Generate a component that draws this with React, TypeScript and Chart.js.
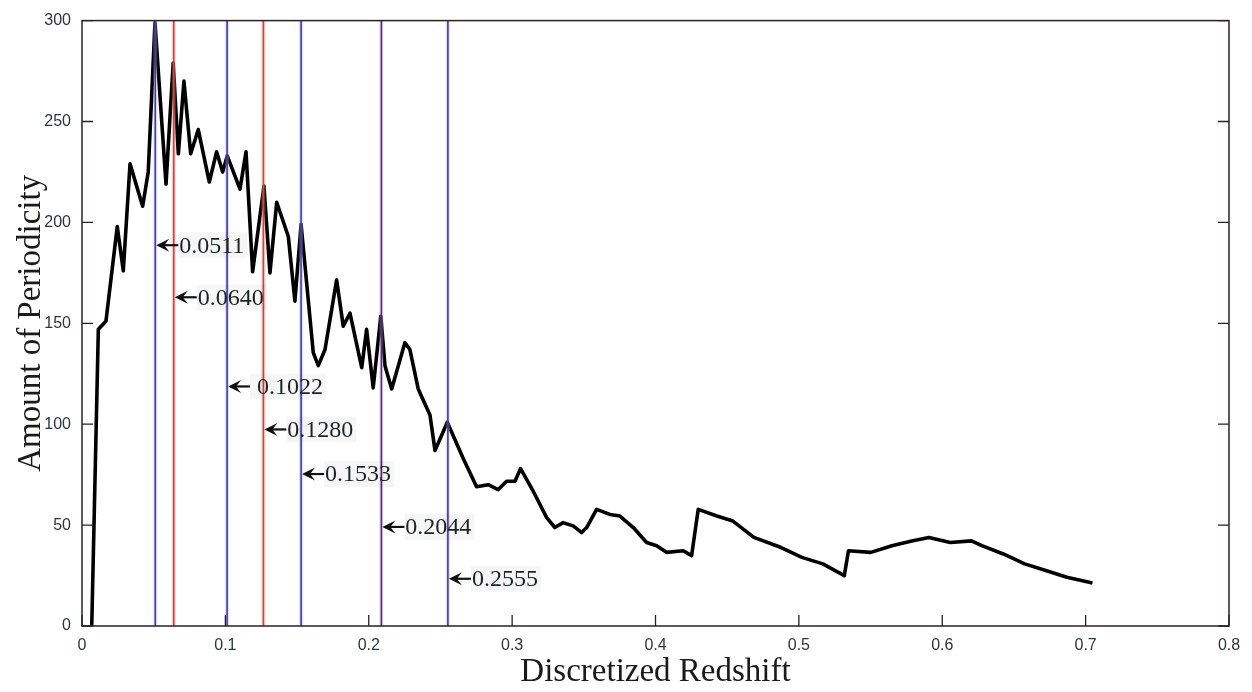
import { useEffect, useRef } from "react"
import { Chart, registerables, type Plugin } from "chart.js"

Chart.register(...registerables)

// curve
const redshift = [
  0.0068, 0.0114, 0.0167, 0.0246, 0.0288, 0.0335, 0.0423, 0.0462, 0.0509, 0.0586,
  0.0636, 0.0672, 0.0711, 0.0758, 0.0811, 0.0888, 0.0939, 0.0981, 0.1013, 0.1102,
  0.1144, 0.119, 0.1269, 0.1311, 0.1358, 0.1439, 0.1485, 0.1528, 0.1613, 0.1648,
  0.1695, 0.1776, 0.1822, 0.1869, 0.1951, 0.1985, 0.2031, 0.2084, 0.2113, 0.216,
  0.2252, 0.2287, 0.2345, 0.2427, 0.2462, 0.2548, 0.2659, 0.2752, 0.2833, 0.2903,
  0.2962, 0.302, 0.3059, 0.3147, 0.3241, 0.3298, 0.3356, 0.3426, 0.3485, 0.352,
  0.3589, 0.3682, 0.3752, 0.3845, 0.3938, 0.4008, 0.4077, 0.4193, 0.4252, 0.4298,
  0.4428, 0.454, 0.4686, 0.4872, 0.5021, 0.5167, 0.5317, 0.5346, 0.5502, 0.5649,
  0.5795, 0.5907, 0.6056, 0.6204, 0.6276, 0.6426, 0.6575, 0.6722, 0.6869, 0.7048,
]
const periodicity = [
  0, 147, 151, 198, 176, 229, 208, 225, 299, 219,
  279, 234, 270, 234, 246, 220, 235, 225, 233, 216.5,
  235, 175.6, 218, 175, 210, 193, 161, 199, 135.5, 129,
  137, 171.5, 148.6, 155, 128, 147, 118, 153.5, 129, 117.5,
  140.4, 137, 117.5, 104.6, 87, 101, 83, 69, 70, 67.6,
  71.7, 71.7, 78, 66.8, 53.7, 48.8, 51.2, 49.6, 46.3, 48.8,
  57.8, 55.3, 54.5, 48.8, 41.4, 39.8, 36.5, 37.3, 34.9, 57.8,
  54.5, 52, 43.9, 39, 34, 30.8, 25, 37.3, 36.5, 39.8,
  42.2, 43.9, 41.4, 42.2, 39.8, 35.7, 30.8, 27.5, 24.2, 21.3,
]

// marked periodicities
const markerZ = [0.0511, 0.064, 0.1012, 0.1265, 0.1528, 0.2088, 0.2552]
const markerColors = ["#2744c4", "#d5443a", "#2744c4", "#d5443a", "#2744c4", "#3a3590", "#2744c4"]
const markerLabels = ["0.0511", "0.0640", " 0.1022", "0.1280", "0.1533", "0.2044", "0.2555"]
const labelHeights = [188.7, 162.9, 118.7, 97.4, 75.3, 49.1, 23.4]

const xTicks = [0, 0.1, 0.2, 0.3, 0.4, 0.5, 0.6, 0.7, 0.8]
const yTicks = [0, 50, 100, 150, 200, 250, 300]

const tickFont = { family: "'Liberation Sans', Arial, sans-serif", size: 16 }
const titleFont = { family: "'Liberation Serif', 'Times New Roman', serif", size: 33 }

const framePlugin: Plugin = {
  id: "frame",
  afterDatasetsDraw(chart) {
    const { ctx, chartArea: a } = chart
    const xs = chart.scales.x
    const ys = chart.scales.y
    ctx.save()

    // vertical marker lines
    markerZ.forEach((z, i) => {
      const px = xs.getPixelForValue(z)
      ctx.beginPath()
      ctx.moveTo(px, a.top)
      ctx.lineTo(px, a.bottom)
      ctx.strokeStyle = "rgba(238,140,128,0.35)"
      ctx.lineWidth = 4
      ctx.stroke()
      ctx.beginPath()
      ctx.moveTo(px, a.top)
      ctx.lineTo(px, a.bottom)
      ctx.strokeStyle = markerColors[i]
      ctx.lineWidth = 1.6
      ctx.stroke()
    })

    // inward ticks
    ctx.strokeStyle = "#222"
    ctx.lineWidth = 1.3
    ctx.beginPath()
    xTicks.forEach((v) => {
      const px = xs.getPixelForValue(v)
      ctx.moveTo(px, a.bottom)
      ctx.lineTo(px, a.bottom - 11)
    })
    yTicks.forEach((v) => {
      const py = ys.getPixelForValue(v)
      ctx.moveTo(a.left, py)
      ctx.lineTo(a.left + 11, py)
      ctx.moveTo(a.right, py)
      ctx.lineTo(a.right - 11, py)
    })
    ctx.stroke()

    // box
    ctx.lineWidth = 1.5
    ctx.strokeStyle = "#2a2222"
    ctx.strokeRect(a.left, a.top, a.width, a.height)

    // arrow labels
    ctx.font = "24px 'Liberation Serif', 'Times New Roman', serif"
    ctx.textBaseline = "middle"
    ctx.textAlign = "left"
    markerZ.forEach((z, i) => {
      const x = xs.getPixelForValue(z) + 1
      const y = ys.getPixelForValue(labelHeights[i])
      const text = markerLabels[i]
      const w = ctx.measureText(text).width
      ctx.fillStyle = "rgba(0,0,0,0.035)"
      ctx.fillRect(x + 22, y - 13, w + 4, 26)

      ctx.fillStyle = "#111"
      ctx.beginPath()
      ctx.moveTo(x, y)
      ctx.lineTo(x + 13, y - 6.5)
      ctx.lineTo(x + 8, y)
      ctx.lineTo(x + 13, y + 6.5)
      ctx.closePath()
      ctx.fill()
      ctx.beginPath()
      ctx.moveTo(x + 7, y)
      ctx.lineTo(x + 22, y)
      ctx.strokeStyle = "#111"
      ctx.lineWidth = 2.2
      ctx.stroke()

      ctx.fillStyle = "#1a2424"
      ctx.fillText(text, x + 23, y + 1)
    })
    ctx.restore()
  },
}

export default function App() {
  const canvasRef = useRef<HTMLCanvasElement>(null)

  useEffect(() => {
    document.body.style.margin = "0"
    if (!canvasRef.current) return
    const chart = new Chart(canvasRef.current, {
      type: "line",
      data: {
        datasets: [
          {
            data: redshift.map((z, i) => ({ x: z, y: periodicity[i] })),
            borderColor: "#000",
            borderWidth: 3.6,
            borderJoinStyle: "round",
            pointRadius: 0,
            tension: 0,
          },
        ],
      },
      options: {
        animation: false,
        responsive: true,
        maintainAspectRatio: false,
        layout: { padding: { top: 15, right: 23, left: 0, bottom: 0 } },
        plugins: { legend: { display: false }, tooltip: { enabled: false } },
        scales: {
          x: {
            type: "linear",
            min: 0,
            max: 0.8,
            afterBuildTicks: (s) => {
              s.ticks = xTicks.map((v) => ({ value: v }))
            },
            afterFit: (s) => {
              s.height = 66
            },
            grid: { display: false, drawTicks: false },
            border: { display: false },
            ticks: {
              font: tickFont,
              color: "#2d3540",
              padding: 10,
              maxRotation: 0,
              callback: (v) => String(Number(v)),
            },
            title: {
              display: true,
              text: "Discretized Redshift",
              font: titleFont,
              color: "#1a1a1a",
              padding: { top: 0, bottom: 0 },
            },
          },
          y: {
            type: "linear",
            min: 0,
            max: 300,
            afterBuildTicks: (s) => {
              s.ticks = yTicks.map((v) => ({ value: v }))
            },
            afterFit: (s) => {
              s.width = 82
            },
            grid: { display: false, drawTicks: false },
            border: { display: false },
            ticks: { font: tickFont, color: "#2d3540", padding: 11 },
            title: {
              display: true,
              text: "Amount of Periodicity",
              font: titleFont,
              color: "#1a1a1a",
              padding: { top: 12, bottom: 0 },
            },
          },
        },
      },
      plugins: [framePlugin],
    })
    return () => chart.destroy()
  }, [])

  return (
    <div style={{ width: 1252, height: 692, background: "#fff", position: "relative" }}>
      <canvas ref={canvasRef}></canvas>
    </div>
  )
}
